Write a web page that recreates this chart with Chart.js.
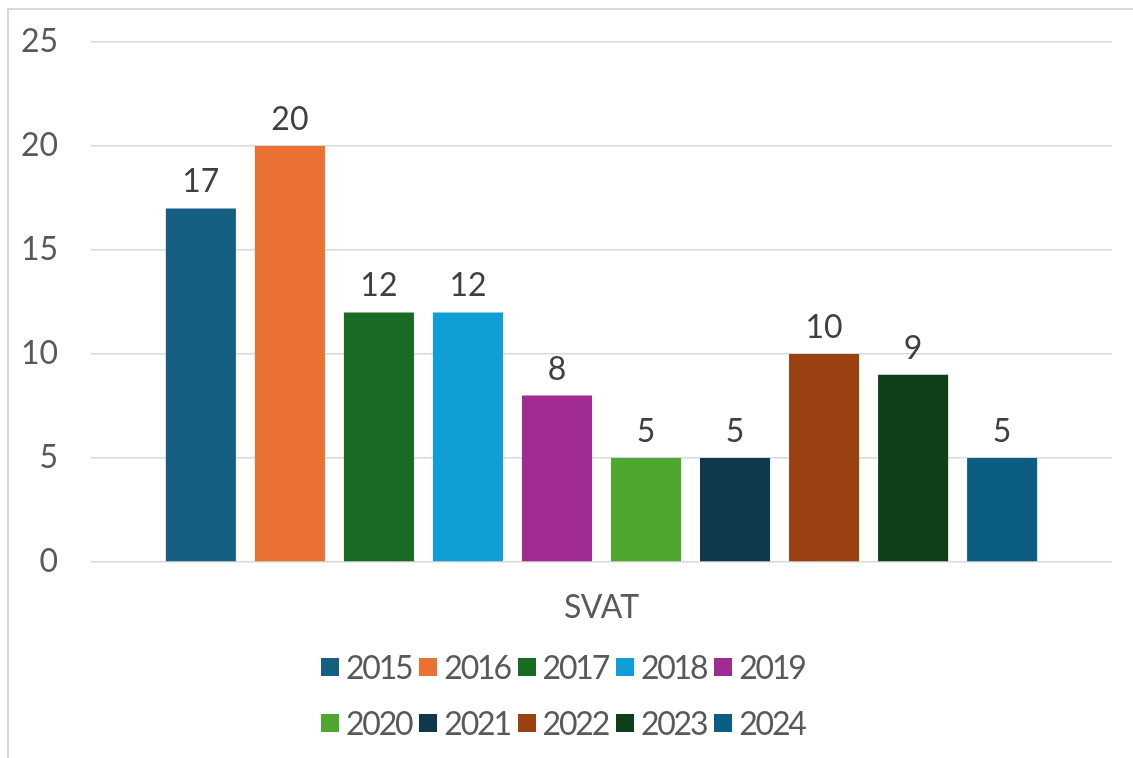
<!DOCTYPE html>
<html>
<head>
<meta charset="utf-8">
<script src="https://cdn.jsdelivr.net/npm/chart.js@4.4.1/dist/chart.umd.min.js"></script>
<style>
  html, body { margin: 0; padding: 0; background: #fff; overflow: hidden; }
  #wrap { position: relative; width: 1133px; height: 758px; overflow: hidden; }
  #frame { position: absolute; left: 7px; top: 8px; width: 1300px; height: 900px;
           border-left: 2px solid #d9d9d9; border-top: 2px solid #d9d9d9; box-sizing: border-box; }
  #chart { position: absolute; left: 0; top: 0; }
  #legend { position: absolute; left: 321px; top: 639px; display: grid;
            grid-template-columns: repeat(5, 98.3px); grid-auto-rows: 56px;
            font-family: Lato, "Open Sans", sans-serif; font-size: 32px; color: #595959; }
  .item { display: flex; align-items: center; white-space: nowrap; }
  .box { width: 18px; height: 18px; margin-right: 7px; flex: none; }
  .txt { letter-spacing: -2.2px; line-height: 1; }
</style>
</head>
<body>
<div id="wrap">
  <div id="frame"></div>
  <canvas id="chart" width="1133" height="758"></canvas>
  <div id="legend"></div>
</div>
<script>
const categories = ['SVAT'];
const years = ['2015', '2016', '2017', '2018', '2019', '2020', '2021', '2022', '2023', '2024'];
const values = [17, 20, 12, 12, 8, 5, 5, 10, 9, 5];
const yTicks = [0, 5, 10, 15, 20, 25];
const colors = ['#156082', '#E97132', '#196B24', '#0F9ED5', '#A02B93',
                '#4EA72E', '#0E384E', '#9A4111', '#0F3F18', '#0B5E81'];

const FONT = 'Lato, "Open Sans", sans-serif';

const valueLabels = {
  id: 'valueLabels',
  afterDatasetsDraw(chart) {
    const ctx = chart.ctx;
    ctx.save();
    ctx.font = '32px ' + FONT;
    ctx.fillStyle = '#404040';
    ctx.textAlign = 'center';
    ctx.textBaseline = 'alphabetic';
    chart.data.datasets.forEach((ds, i) => {
      const meta = chart.getDatasetMeta(i);
      meta.data.forEach((el, j) => {
        ctx.fillText(String(ds.data[j]), el.x, el.y - 16);
      });
    });
    ctx.restore();
  }
};

const datasets = years.map((y, i) => ({
  label: y,
  data: [values[i]],
  backgroundColor: colors[i],
  borderWidth: 0
}));

const chart = new Chart(document.getElementById('chart'), {
  type: 'bar',
  data: { labels: categories, datasets },
  plugins: [valueLabels],
  options: {
    responsive: false,
    animation: false,
    devicePixelRatio: 1,
    barPercentage: 0.787,
    categoryPercentage: 0.872,
    layout: { padding: { left: 0, right: 21, top: 42, bottom: 126 } },
    plugins: { legend: { display: false }, tooltip: { enabled: false } },
    scales: {
      x: {
        grid: { display: false, drawTicks: false },
        border: { display: false },
        ticks: { color: '#595959', font: { family: FONT, size: 32 }, padding: 26 },
        afterFit: (s) => { s.height = 70; s.paddingLeft = 0; s.paddingRight = 0; }
      },
      y: {
        min: 0, max: 25,
        afterBuildTicks: (s) => { s.ticks = yTicks.map(v => ({ value: v })); },
        grid: { color: '#d9d9d9', lineWidth: 1.5, drawTicks: false },
        border: { display: false },
        ticks: { color: '#595959', font: { family: FONT, size: 32 }, padding: 33 },
        afterFit: (s) => { s.width = 91; s.paddingTop = 0; s.paddingBottom = 0; }
      }
    }
  }
});

const legend = document.getElementById('legend');
chart.data.datasets.forEach(ds => {
  const item = document.createElement('div');
  item.className = 'item';
  const box = document.createElement('span');
  box.className = 'box';
  box.style.background = ds.backgroundColor;
  const txt = document.createElement('span');
  txt.className = 'txt';
  txt.textContent = ds.label;
  item.appendChild(box);
  item.appendChild(txt);
  legend.appendChild(item);
});
</script>
</body>
</html>
